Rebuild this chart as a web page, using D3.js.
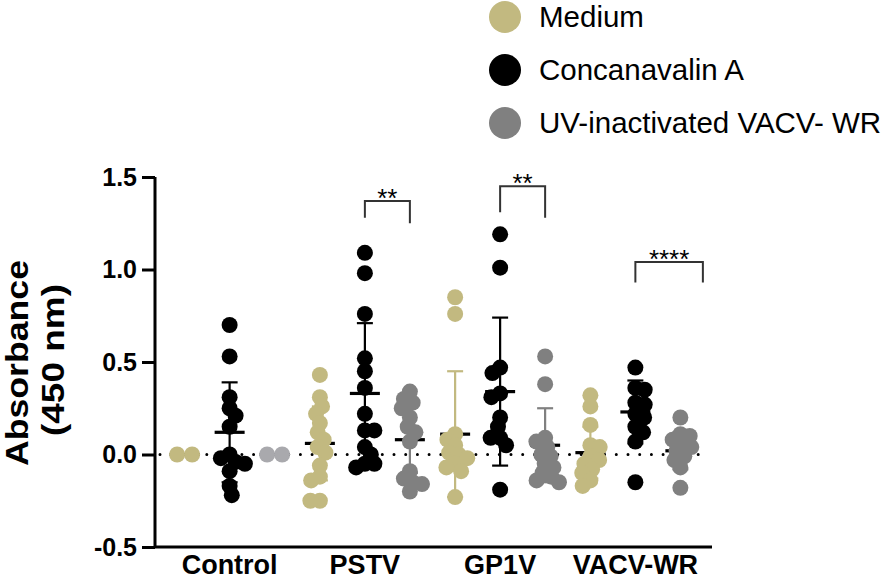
<!DOCTYPE html>
<html><head><meta charset="utf-8">
<script src="https://cdn.jsdelivr.net/npm/d3@7"></script>
<style>html,body{margin:0;padding:0;background:#fff;}svg{display:block;font-family:"Liberation Sans",Arial,sans-serif;}</style>
</head><body><svg id="chart" width="896" height="579"></svg>
<script>
// ---- data ----
const groups = ["Control", "PSTV", "GP1V", "VACV-WR"];
const seriesNames = ["Medium", "Concanavalin A", "UV-inactivated VACV- WR"];
const seriesColors = ["#c2b980", "#000000", "#808080"];

const mediumValues = [
  [0, 0],
  [0.43, 0.31, 0.26, 0.22, 0.17, 0.12, 0.08, 0.04, 0.01, -0.06, -0.12, -0.14, -0.25, -0.25],
  [0.85, 0.76, 0.11, 0.08, 0.05, 0.01, 0.0, -0.02, -0.05, -0.07, -0.09, -0.23],
  [0.32, 0.26, 0.16, 0.05, 0.04, -0.01, -0.03, -0.05, -0.08, -0.10, -0.14, -0.17]
];
const conAValues = [
  [0.70, 0.53, 0.31, 0.25, 0.21, 0.15, 0.0, -0.02, -0.04, -0.05, -0.09, -0.17, -0.22],
  [1.09, 0.98, 0.76, 0.52, 0.45, 0.36, 0.22, 0.13, 0.13, 0.04, 0.0, -0.05, -0.05, -0.07],
  [1.19, 1.01, 0.47, 0.44, 0.33, 0.31, 0.20, 0.15, 0.09, 0.09, 0.05, -0.19],
  [0.47, 0.36, 0.35, 0.28, 0.27, 0.22, 0.20, 0.15, 0.12, 0.07, -0.15]
];
const uvValues = [
  [0, 0],
  [0.34, 0.30, 0.28, 0.25, 0.20, 0.15, 0.12, 0.07, -0.09, -0.13, -0.15, -0.16, -0.20],
  [0.53, 0.38, 0.09, 0.07, 0.04, 0.0, -0.01, -0.05, -0.07, -0.10, -0.12, -0.14, -0.15],
  [0.20, 0.11, 0.10, 0.08, 0.06, 0.04, 0.02, -0.01, -0.03, -0.07, -0.18]
];
const mediumMean = [0, 0.06, 0.11, 0.01];
const mediumSD   = [0, 0.20, 0.34, 0.14];
const conAMean   = [0.12, 0.33, 0.34, 0.23];
const conASD     = [0.27, 0.38, 0.40, 0.17];
const uvMean     = [0, 0.08, 0.05, 0.02];
const uvSD       = [0, 0.18, 0.20, 0.10];

const yTicks = [-0.5, 0, 0.5, 1.0, 1.5];
const yTickLabels = ["-0.5", "0.0", "0.5", "1.0", "1.5"];

// significance brackets
const sigGroups   = ["PSTV", "GP1V", "VACV-WR"];
const sigLabels   = ["**", "**", "****"];
const sigTop      = [1.37, 1.45, 1.04];
const sigLeftEnd  = [1.28, 1.31, 0.93];
const sigRightEnd = [1.25, 1.28, 0.93];
const sigFrom     = [0, 0, 0];     // series slot index
const sigTo       = [1, 1, 1.5];

// ---- layout ----
const svg = d3.select("#chart");
const xAxisLeft = 155, xAxisRight = 712;
const y = d3.scaleLinear().domain([-0.5, 1.5]).range([547, 177]);
const xGroup = d3.scaleBand().domain(groups).range([162, 703]).paddingInner(0).paddingOuter(0);
const slot = d3.scaleLinear().domain([-1, 1]).range([-45, 45]);
const gx = g => xGroup(g) + xGroup.bandwidth() / 2;

const allValues = [mediumValues, conAValues, uvValues];
const allMeans = [mediumMean, conAMean, uvMean];
const allSD = [mediumSD, conASD, uvSD];

const R = 8, D = 9.5;
function swarm(vals) {
  const pts = vals.map(v => ({ v, py: y(v) })).sort((a, b) => a.py - b.py);
  const allSame = vals.every(v => v === vals[0]);
  if (allSame) {
    const sp = 15;
    pts.forEach((p, i) => p.dx = (i - (pts.length - 1) / 2) * sp);
    return pts;
  }
  const placed = [];
  pts.forEach((p, idx) => {
    const cands = [0];
    placed.forEach(q => {
      const dy = Math.abs(q.py - p.py);
      if (dy < D) {
        const w = Math.sqrt(D * D - dy * dy);
        cands.push(q.dx + w, q.dx - w);
      }
    });
    const ok = cands.filter(c => placed.every(q => Math.hypot(q.dx - c, q.py - p.py) >= D - 1e-6));
    ok.sort((a, b) => Math.abs(a) - Math.abs(b) || (idx % 2 ? a - b : b - a));
    p.dx = ok[0];
    placed.push(p);
  });
  return pts;
}

// zero dotted line
svg.append("line")
  .attr("x1", 160).attr("x2", 706)
  .attr("y1", y(0)).attr("y2", y(0))
  .attr("stroke", "#000").attr("stroke-width", 3)
  .attr("stroke-linecap", "round").attr("stroke-dasharray", "0,11.7");

// error bars & means (under points)
const errG = svg.append("g");
groups.forEach((g, gi) => {
  [0, 1, 2].forEach(si => {
    const cx = gx(g) + slot(si - 1);
    const m = allMeans[si][gi], s = allSD[si][gi];
    const col = seriesColors[si];
    if (s > 0) {
      errG.append("line").attr("x1", cx).attr("x2", cx)
        .attr("y1", y(m + s)).attr("y2", y(m - s))
        .attr("stroke", col).attr("stroke-width", 2.2);
      [m + s, m - s].forEach(v => errG.append("line")
        .attr("x1", cx - 8).attr("x2", cx + 8).attr("y1", y(v)).attr("y2", y(v))
        .attr("stroke", col).attr("stroke-width", 2.2));
    }
    errG.append("line").attr("x1", cx - 15).attr("x2", cx + 15)
      .attr("y1", y(m)).attr("y2", y(m))
      .attr("stroke", "#000").attr("stroke-width", 3.2);
  });
});

// points
const ptG = svg.append("g");
groups.forEach((g, gi) => {
  [0, 1, 2].forEach(si => {
    const cx = gx(g) + slot(si - 1);
    const pts = swarm(allValues[si][gi]);
    const fill = (gi === 0 && si === 2) ? "#a9a9ad" : seriesColors[si];
    ptG.selectAll(null).data(pts).enter().append("circle")
      .attr("cx", d => cx + d.dx).attr("cy", d => y(d.v)).attr("r", R)
      .attr("fill", fill);
  });
});

// y axis
const yAxis = d3.axisLeft(y).tickValues(yTicks).tickFormat((d, i) => yTickLabels[i]).tickSize(13).tickPadding(5);
const yg = svg.append("g").attr("transform", `translate(${xAxisLeft},0)`).call(yAxis);
yg.select(".domain").attr("stroke", "#000").attr("stroke-width", 3).attr("d", `M0,${y(1.5)}V${y(-0.5)}`);
yg.selectAll(".tick line").attr("stroke", "#000").attr("stroke-width", 3);
yg.selectAll(".tick text").attr("font-size", 25).attr("font-weight", "bold").attr("fill", "#000")
  .attr("font-family", "Liberation Sans, Arial, sans-serif");

// x axis
const xAxis = d3.axisBottom(xGroup).tickSize(0).tickPadding(8);
const xg = svg.append("g").attr("transform", `translate(0,${y(-0.5)})`).call(xAxis);
xg.select(".domain").attr("stroke", "#000").attr("stroke-width", 3).attr("d", `M${xAxisLeft},0H${xAxisRight}`);
xg.selectAll(".tick text").attr("font-size", 27).attr("font-weight", "bold").attr("fill", "#000")
  .attr("dy", "0.71em").attr("font-family", "Liberation Sans, Arial, sans-serif");

// y title
const tg = svg.append("g");
tg.append("text").attr("transform", `translate(28,${363}) rotate(-90)`)
  .attr("text-anchor", "middle").attr("font-size", 32).attr("font-weight", "bold")
  .attr("textLength", 206).attr("lengthAdjust", "spacingAndGlyphs")
  .text("Absorbance");
tg.append("text").attr("transform", `translate(64,${360}) rotate(-90)`)
  .attr("text-anchor", "middle").attr("font-size", 32).attr("font-weight", "bold")
  .attr("textLength", 152).attr("lengthAdjust", "spacingAndGlyphs")
  .text("(450 nm)");

// significance brackets
const sg = svg.append("g");
sigGroups.forEach((g, i) => {
  const x1 = gx(g) + slot(sigFrom[i]), x2 = gx(g) + slot(sigTo[i]);
  sg.append("path")
    .attr("d", `M${x1},${y(sigLeftEnd[i])}V${y(sigTop[i])}H${x2}V${y(sigRightEnd[i])}`)
    .attr("fill", "none").attr("stroke", "#333").attr("stroke-width", 2);
  sg.append("text").attr("x", (x1 + x2) / 2).attr("y", y(sigTop[i]) + 6)
    .attr("text-anchor", "middle").attr("font-size", 26).attr("fill", "#000")
    .text(sigLabels[i]);
});

// legend
const lg = svg.append("g");
seriesNames.forEach((n, i) => {
  const cy = 17 + i * 53;
  lg.append("circle").attr("cx", 505).attr("cy", cy).attr("r", 16).attr("fill", seriesColors[i]);
  lg.append("text").attr("x", 539).attr("y", cy + 10).attr("font-size", 29.5).attr("fill", "#000").text(n);
});
</script></body></html>
